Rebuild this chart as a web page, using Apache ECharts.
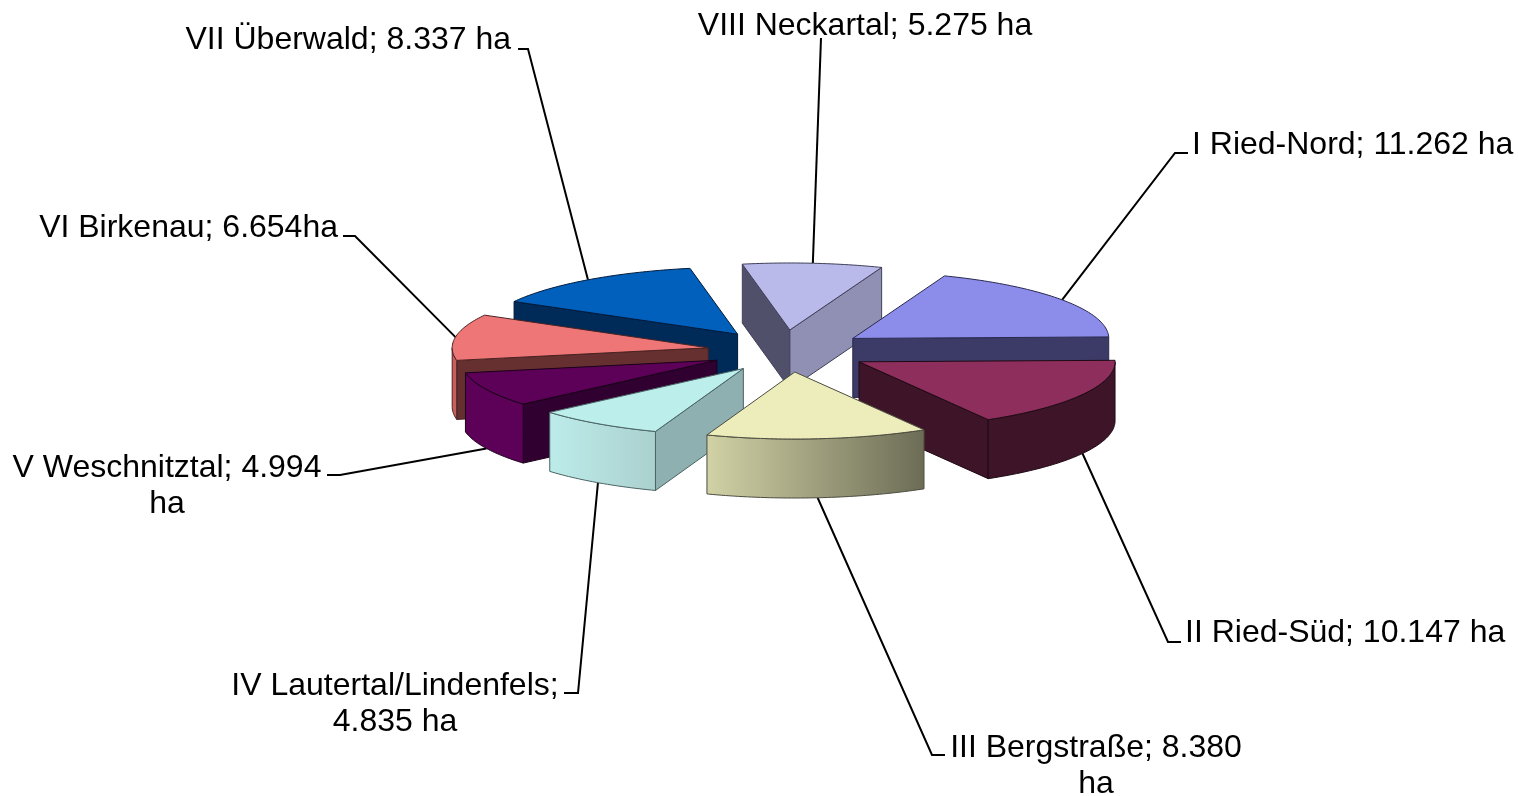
<!DOCTYPE html>
<html>
<head>
<meta charset="utf-8">
<title>Regionen</title>
<style>
  html, body { margin: 0; padding: 0; background: #fff; }
  #chart { width: 1519px; height: 796px; }
</style>
<script src="https://cdn.jsdelivr.net/npm/echarts@6/dist/echarts.min.js"></script>
</head>
<body>
<div id="chart"></div>
<script>
const regions = ['I Ried-Nord', 'II Ried-Süd', 'III Bergstraße', 'IV Lautertal/Lindenfels', 'V Weschnitztal', 'VI Birkenau', 'VII Überwald', 'VIII Neckartal']
const areas = [11262, 10147, 8380, 4835, 4994, 6654, 8337, 5275]
const labelLines = [
  ['I Ried-Nord; 11.262 ha'],
  ['II Ried-Süd; 10.147 ha'],
  ['III Bergstraße; 8.380', 'ha'],
  ['IV Lautertal/Lindenfels;', '4.835 ha'],
  ['V Weschnitztal; 4.994', 'ha'],
  ['VI Birkenau; 6.654ha'],
  ['VII Überwald; 8.337 ha'],
  ['VIII Neckartal; 5.275 ha'],
]

// label placement: x, y of first line, align, leader elbow, leader end
const labelLayout = [
  { x: 1192, y: 145, align: 'left', elbow: [1175, 153], end: [1188, 153] },
  { x: 1185, y: 633, align: 'left', elbow: [1168, 642], end: [1181, 642] },
  { x: 1096, y: 748, align: 'center', elbow: [932, 755], end: [945, 755] },
  { x: 395, y: 686, align: 'center', elbow: [578, 693], end: [564, 693] },
  { x: 167, y: 468, align: 'center', elbow: [340, 475], end: [327, 475] },
  { x: 338, y: 228, align: 'right', elbow: [355, 236], end: [343, 236] },
  { x: 511, y: 40, align: 'right', elbow: [528, 49], end: [518, 49] },
  { x: 865, y: 26, align: 'center', elbow: [821, 38], end: [821, 38] },
]

// nudge: the reference has a slight perspective, this evens it out per slice
const sliceStyles = [
  { top: '#8c8cea', wall: '#3c3a66', rim: ['#3c3a66', '#3c3a66'], line: '#2a2a50', nudge: [0, 0] },
  { top: '#8e2e5c', wall: '#3e1428', rim: ['#3e1428', '#3e1428'], line: '#1e0a14', nudge: [2, 2] },
  { top: '#ededbb', wall: '#8a8a6c', rim: ['#d2d2a6', '#6c6c56'], line: '#4c4c40', nudge: [-2, 2] },
  { top: '#bceeec', wall: '#8fb0b0', rim: ['#bcecea', '#abd0ce'], line: '#4a6464', nudge: [-3, 2] },
  { top: '#5c0058', wall: '#300030', rim: ['#5c0058', '#5c0058'], line: '#1a001a', nudge: [-4, 1.5] },
  { top: '#ee7676', wall: '#663030', rim: ['#c85f5f', '#c85f5f'], line: '#4a2222', nudge: [-6, 1] },
  { top: '#0060bc', wall: '#002a58', rim: ['#002a58', '#002a58'], line: '#001a3c', nudge: [-7.5, 0.5] },
  { top: '#b9b9ea', wall: '#50506a', wall2: '#9090b4', rim: ['#9090b4', '#9090b4'], line: '#40405a', nudge: [-7, 0] },
]

const centerX = 790
const centerY = 350
const radiusX = 256
const radiusY = 67
const depth = 59
const explode = 0.3
const startAngle = 21
const labelFont = '32px "Liberation Sans", Arial, sans-serif'
const lineHeight = 36

const total = areas.reduce((a, b) => a + b, 0)
const rad = d => d * Math.PI / 180

function sliceAngles(i) {
  const before = areas.slice(0, i).reduce((a, b) => a + b, 0)
  const from = startAngle + before / total * 360
  return [from, from + areas[i] / total * 360]
}

function rimPoint(apex, deg) {
  return [apex[0] + radiusX * Math.sin(rad(deg)), apex[1] - radiusY * Math.cos(rad(deg))]
}

function renderSlice(params, api) {
  const i = params.dataIndex
  const st = sliceStyles[i]
  const [from, to] = sliceAngles(i)
  const mid = (from + to) / 2
  const apex = [
    centerX + st.nudge[0] + explode * radiusX * Math.sin(rad(mid)),
    centerY + st.nudge[1] - explode * radiusY * Math.cos(rad(mid)),
  ]
  const arc = []
  for (let d = from; d < to; d += 1) arc.push(rimPoint(apex, d))
  arc.push(rimPoint(apex, to))

  const order = 100 - 50 * Math.cos(rad(mid))
  const children = []
  const face = (points, fill, z) => children.push({
    type: 'polygon',
    z2: order + z,
    shape: { points },
    style: { fill, stroke: st.line, lineWidth: 1, lineJoin: 'round' },
  })
  const drop = p => [p[0], p[1] + depth]

  // walls that look towards the viewer
  if (Math.sin(rad(from)) < 0) {
    const p = rimPoint(apex, from)
    face([apex, p, drop(p), drop(apex)], st.wall, 0)
  }
  if (Math.sin(rad(to)) > 0) {
    const p = rimPoint(apex, to)
    face([apex, p, drop(p), drop(apex)], st.wall2 || st.wall, 0)
  }

  // outer rim, only the front half of the ellipse
  const rimFrom = Math.max(from, 90)
  const rimTo = Math.min(to, 270)
  if (rimTo > rimFrom) {
    const edge = []
    for (let d = rimFrom; d < rimTo; d += 1) edge.push(rimPoint(apex, d))
    edge.push(rimPoint(apex, rimTo))
    const fill = new echarts.graphic.LinearGradient(0, 0, 1, 0, [
      { offset: 0, color: st.rim[0] },
      { offset: 1, color: st.rim[1] },
    ])
    face(edge.concat(edge.map(drop).reverse()), fill, 1)
  }

  face([apex].concat(arc), st.top, 2)

  // leader line
  const layout = labelLayout[i]
  const start = rimPoint(apex, mid)
  if (Math.cos(rad(mid)) < 0) start[1] += depth
  children.push({
    type: 'polyline',
    z2: 1,
    shape: { points: [start, layout.elbow, layout.end] },
    style: { fill: null, stroke: '#000', lineWidth: 2 },
  })

  labelLines[i].forEach((text, n) => {
    children.push({
      type: 'text',
      z2: 300,
      style: {
        text,
        x: layout.x,
        y: layout.y + n * lineHeight,
        font: labelFont,
        fill: '#000',
        align: layout.align,
        verticalAlign: 'middle',
      },
    })
  })

  return { type: 'group', children }
}

const chart = echarts.init(document.getElementById('chart'))
chart.setOption({
  backgroundColor: '#fff',
  animation: false,
  series: [{
    type: 'custom',
    coordinateSystem: 'none',
    renderItem: renderSlice,
    data: areas.map((v, i) => ({ name: regions[i], value: v })),
    silent: true,
  }],
})
</script>
</body>
</html>
